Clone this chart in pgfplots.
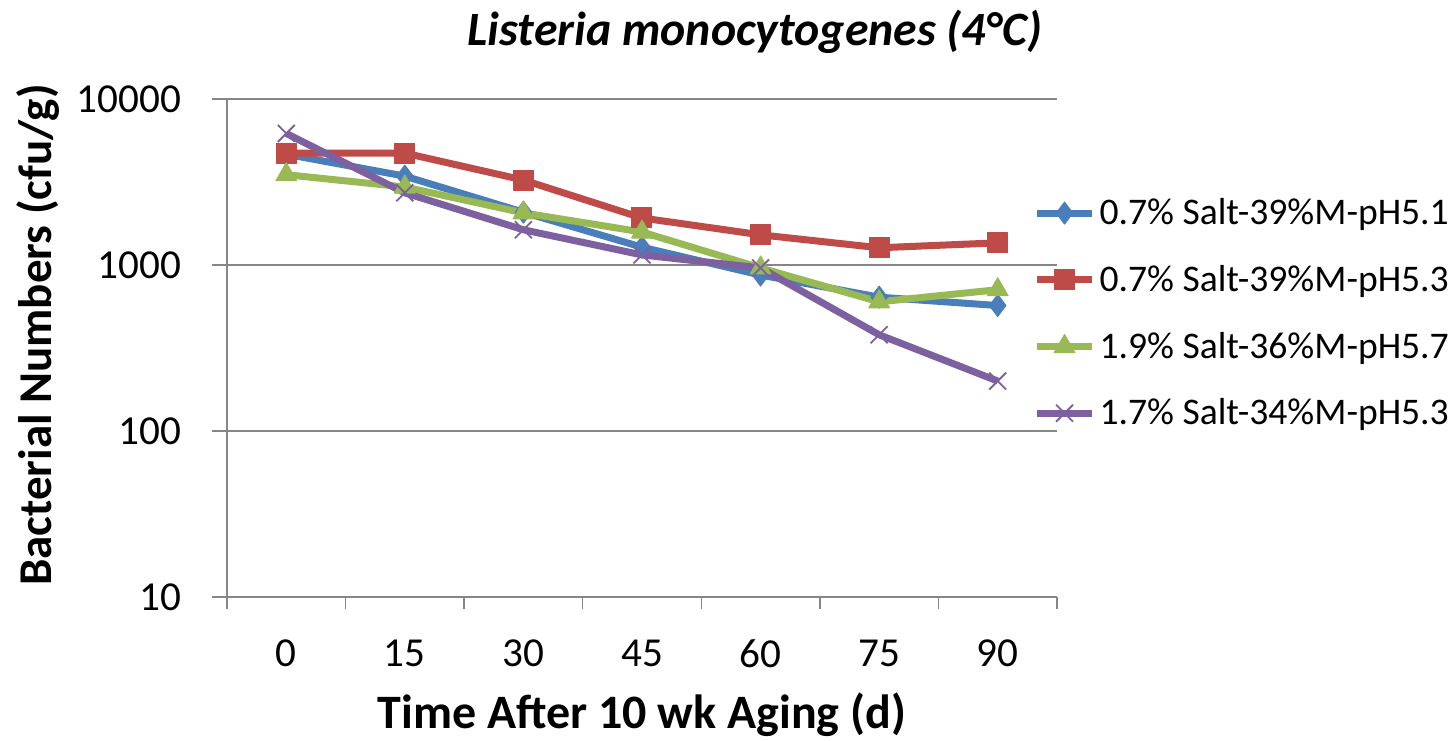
\documentclass[border=0pt]{standalone}
\usepackage{fontspec}
\setmainfont{Carlito}
\usepackage{pgfplots}
\pgfplotsset{compat=1.18}

\definecolor{sblue}{HTML}{4A7EBB}
\definecolor{sred}{HTML}{BE4B48}
\definecolor{sgreen}{HTML}{98B954}
\definecolor{spurple}{HTML}{7D60A0}
\definecolor{axgray}{HTML}{868686}

\begin{document}
\begin{tikzpicture}[x=1pt,y=1pt]
\useasboundingbox (-113.5,-71.5) rectangle (612,298.5);
\begin{axis}[
  at={(0,0)}, anchor=south west,
  scale only axis, width=415pt, height=249pt,
  xmin=-0.5, xmax=6.5,
  ymode=log, ymin=10, ymax=10000,
  axis x line*=bottom, axis y line*=left,
  axis line style={axgray, line width=0.75pt},
  ymajorgrids, grid style={axgray, line width=0.75pt},
  ytick={10,100,1000,10000}, yticklabels={10,100,1000,10000},
  yminorticks=false,
  xtick={0,1,2,3,4,5,6}, xticklabels={0,15,30,45,60,75,90},
  minor xtick={-0.5,0.5,1.5,2.5,3.5,4.5,5.5,6.5},
  tick align=outside,
  major tick length=7.5pt, minor tick length=6pt,
  major x tick style={draw=none},
  tick style={axgray, line width=0.75pt},
  ticklabel style={font=\fontsize{20.6}{24}\selectfont},
  yticklabel style={xshift=-12pt},
  xticklabel style={yshift=-10.5pt},
  xlabel={Time After 10 wk Aging (d)},
  ylabel={Bacterial Numbers (cfu/g)},
  xlabel style={at={(axis description cs:0.5,-0.237)}, anchor=center,
    font=\bfseries\fontsize{24}{28}\selectfont},
  ylabel style={at={(axis description cs:-0.228,0.526)}, anchor=center, rotate=0,
    font=\bfseries\fontsize{23.5}{27}\selectfont},
  legend style={at={(0.964,0.817)}, anchor=north west, draw=none, fill=none,
    font=\fontsize{18.8}{23}\selectfont, row sep=14.8pt},
  legend cell align=left,
  legend image code/.code={
    \draw[mark repeat=2, mark phase=2, #1] plot coordinates {(0pt,0pt) (13.75pt,0pt) (27.5pt,0pt)};
  },
  every axis plot/.append style={line width=3.5pt, line join=round},
  clip=false,
]
\addplot[sblue, mark=diamond*, mark size=5.5pt, mark options={line width=0.5pt}]
  coordinates {(0,4650) (1,3430) (2,2080) (3,1280) (4,870) (5,640) (6,570)};
\addlegendentry{0.7\% Salt-39\%M-pH5.1}
\addplot[sred, mark=square*, mark size=5pt, mark options={line width=0.5pt}]
  coordinates {(0,4720) (1,4720) (2,3250) (3,1920) (4,1520) (5,1270) (6,1360)};
\addlegendentry{0.7\% Salt-39\%M-pH5.3}
\addplot[sgreen, mark=triangle*, mark size=6pt, mark options={line width=0.5pt}]
  coordinates {(0,3500) (1,2950) (2,2060) (3,1580) (4,960) (5,600) (6,710)};
\addlegendentry{1.9\% Salt-36\%M-pH5.7}
\addplot[spurple, mark=x, mark size=6pt, mark options={line width=0.9pt}]
  coordinates {(0,6200) (1,2720) (2,1630) (3,1150) (4,960) (5,380) (6,200)};
\addlegendentry{1.7\% Salt-34\%M-pH5.3}
\node[font=\bfseries\itshape\fontsize{23.9}{28}\selectfont] at (axis description cs:0.636,1.135)
  {Listeria monocytogenes (4°C)};
\end{axis}
\end{tikzpicture}
\end{document}
